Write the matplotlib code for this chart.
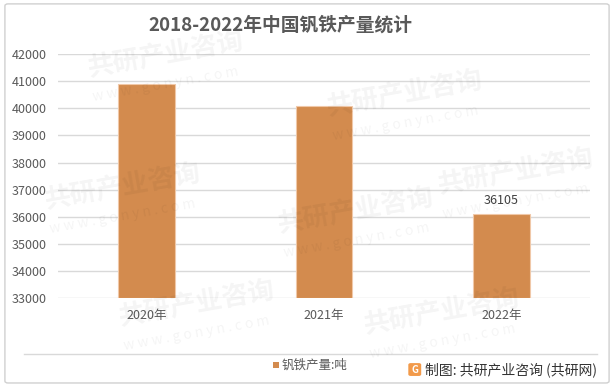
import matplotlib.pyplot as plt
from matplotlib.patches import FancyBboxPatch, Rectangle
from matplotlib.lines import Line2D

plt.rcParams['font.family'] = ['Noto Sans CJK SC', 'DejaVu Sans']

# data
years = ['2020年', '2021年', '2022年']
output_tons = [40900, 40100, 36105]
labelled = [False, False, True]
y_ticks = list(range(33000, 42001, 1000))

bar_color = '#D38B4E'
text_color = '#595959'

fig = plt.figure(figsize=(6.14, 3.9), dpi=100)

# faint watermark tiles, drawn first so they stay behind
for (wx, wy) in [(0.27, 0.86), (0.66, 0.76), (0.20, 0.52), (0.58, 0.46),
                 (0.84, 0.56), (0.32, 0.22), (0.72, 0.20)]:
    fig.text(wx, wy, '共研产业咨询', fontsize=19, fontweight='bold', color='#000000',
             alpha=0.045, rotation=10, ha='center', va='center')
    fig.text(wx, wy - 0.075, 'w w w . g o n y n . c o m', fontsize=10, color='#000000',
             alpha=0.045, rotation=10, ha='center', va='center')

# outer frame
fig.patches.append(FancyBboxPatch((0.008, 0.018), 0.984, 0.972, boxstyle='round,pad=0,rounding_size=0.005',
                                  transform=fig.transFigure, fill=False, edgecolor='#D0D0D0', linewidth=1))

ax = fig.add_axes([0.0945, 0.236, 0.8665, 0.625])
x = range(len(years))
bars = ax.bar(x, [v - 33000 for v in output_tons], bottom=33000, width=0.32,
              color=bar_color, edgecolor='#F0C8A8', linewidth=0.8, zorder=3)
for i, b in enumerate(bars):
    if labelled[i]:
        ax.text(b.get_x() + b.get_width() / 2, output_tons[i] + 250, str(output_tons[i]),
                ha='center', va='bottom', fontsize=9, color='#404040')

ax.set_xlim(-0.5, 2.5)
ax.set_ylim(33000, 42000)
ax.set_yticks(y_ticks)
ax.set_yticklabels([str(t) for t in y_ticks], fontsize=9, color=text_color)
ax.set_xticks(list(x))
ax.set_xticklabels(years, fontsize=9, color=text_color)
ax.tick_params(axis='both', length=0)
ax.tick_params(axis='y', pad=8)
ax.tick_params(axis='x', pad=8)
ax.grid(axis='y', color='#D9D9D9', linewidth=1, zorder=0)
for s in ax.spines.values():
    s.set_visible(False)
ax.patch.set_alpha(0)

fig.text(0.457, 0.935, '2018-2022年中国钒铁产量统计', fontsize=13.5, fontweight='bold',
         color=text_color, ha='center', va='center')

# separator line above the footer
fig.add_artist(Line2D([0.039, 0.973], [0.092, 0.092], transform=fig.transFigure,
                      color='#D9D9D9', linewidth=1))

# legend
fig.patches.append(Rectangle((0.445, 0.056), 0.0095, 0.015, transform=fig.transFigure,
                             facecolor=bar_color, edgecolor='none'))
fig.text(0.459, 0.064, '钒铁产量:吨', fontsize=9, color=text_color, ha='left', va='center')

# source with small logo
fig.patches.append(FancyBboxPatch((0.665, 0.036), 0.021, 0.033, boxstyle='round,pad=0,rounding_size=0.004',
                                  transform=fig.transFigure, facecolor='#F29A4A', edgecolor='none'))
fig.text(0.6755, 0.0525, 'G', fontsize=7, fontweight='bold', color='white', ha='center', va='center')
fig.text(0.973, 0.052, '制图: 共研产业咨询 (共研网)', fontsize=10, color='#333333', ha='right', va='center')

fig.savefig('out.png', dpi=100)
